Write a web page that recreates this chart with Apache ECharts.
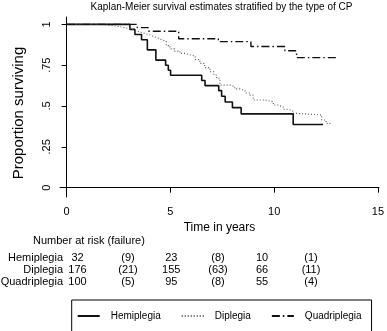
<!DOCTYPE html>
<html>
<head>
<meta charset="utf-8">
<script src="https://cdn.jsdelivr.net/npm/echarts@6/dist/echarts.min.js"></script>
<style>
html,body{margin:0;padding:0;background:#fff;}
#c{width:387px;height:331px;}
</style>
</head>
<body>
<div id="c"></div>
<script>
// ---- data ----
const hemiTime = [0, 3.05, 3.29, 3.61, 3.89, 4.30, 4.77, 4.90, 5.01, 6.51, 6.67, 7.33, 7.47, 7.64, 7.99, 8.41, 10.92, 12.36];
const hemiSurv = [1, 0.969, 0.938, 0.906, 0.844, 0.781, 0.750, 0.719, 0.688, 0.656, 0.625, 0.594, 0.560, 0.525, 0.490, 0.452, 0.387, 0.387];

const dipTime = [0, 1.76, 2.1, 2.33, 2.6, 2.81, 3.05, 3.29, 3.55, 3.77, 4.0, 4.17, 4.4, 4.58, 4.8, 4.98, 5.2, 5.46, 5.7, 5.94, 6.2, 6.42, 6.65, 6.91, 7.1, 7.23, 7.39, 7.87, 8.1, 8.35, 8.6, 8.83, 8.99, 9.56, 9.96, 10.2, 10.44, 10.7, 10.92, 11.08, 12.29, 12.5, 12.69];
const dipSurv = [1, 0.994, 0.99, 0.985, 0.979, 0.973, 0.964, 0.953, 0.944, 0.936, 0.926, 0.916, 0.906, 0.896, 0.87, 0.85, 0.836, 0.822, 0.814, 0.806, 0.784, 0.761, 0.735, 0.71, 0.69, 0.67, 0.628, 0.618, 0.605, 0.593, 0.58, 0.567, 0.537, 0.526, 0.506, 0.494, 0.48, 0.468, 0.455, 0.445, 0.414, 0.394, 0.38];

const quadTime = [0, 3.4, 3.93, 5.4, 7.31, 8.88, 10.52, 11.08, 13.0];
const quadSurv = [1, 0.98, 0.958, 0.912, 0.894, 0.864, 0.838, 0.796, 0.796];

const seriesNames = ['Hemiplegia', 'Diplegia', 'Quadriplegia'];
const xTicks = [0, 5, 10, 15];
const yTicks = [0, 0.25, 0.5, 0.75, 1];
const yTickLabels = ['0', '.25', '.5', '.75', '1'];

const riskTitle = 'Number at risk (failure)';
const riskHemi = ['32', '(9)', '23', '(8)', '10', '(1)'];
const riskDip = ['176', '(21)', '155', '(63)', '66', '(11)'];
const riskQuad = ['100', '(5)', '95', '(8)', '55', '(4)'];

const titleText = 'Kaplan-Meier survival estimates stratified by the type of CP';
const xName = 'Time in years';
const yName = 'Proportion surviving';

// ---- chart ----
const FONT = 'Liberation Sans, Arial, Helvetica, sans-serif';
const zip = (t, s) => t.map((v, i) => [v, s[i]]);

const riskRows = [riskHemi, riskDip, riskQuad];
const riskColX = [77.5, 128, 171.3, 218, 262, 311];
const riskRowY = [257.7, 270, 281.7];

const graphics = [];
graphics.push({
  type: 'text', x: 221.5, y: 7,
  style: { text: titleText, font: '10px ' + FONT, fill: '#000', textAlign: 'center', textVerticalAlign: 'middle' }
});
graphics.push({
  type: 'text', x: 19, y: 113, rotation: Math.PI / 2,
  style: { text: yName, font: '15px ' + FONT, fill: '#000', textAlign: 'center', textVerticalAlign: 'middle' }
});
graphics.push({
  type: 'text', x: 33, y: 241,
  style: { text: riskTitle, font: '11px ' + FONT, fill: '#000', textAlign: 'left', textVerticalAlign: 'middle' }
});
riskRows.forEach((row, r) => {
  graphics.push({
    type: 'text', x: 63, y: riskRowY[r],
    style: { text: seriesNames[r], font: '11px ' + FONT, fill: '#000', textAlign: 'right', textVerticalAlign: 'middle' }
  });
  row.forEach((v, c) => {
    graphics.push({
      type: 'text', x: riskColX[c], y: riskRowY[r],
      style: { text: v, font: '11px ' + FONT, fill: '#000', textAlign: 'center', textVerticalAlign: 'middle' }
    });
  });
});

const chart = echarts.init(document.getElementById('c'), null, { renderer: 'canvas' });
chart.setOption({
  animation: false,
  backgroundColor: '#fff',
  textStyle: { fontFamily: FONT, color: '#000' },
  grid: { left: 60, right: 7, top: 17, bottom: 134, containLabel: false },
  xAxis: {
    type: 'value', min: -0.32, max: 15.05,
    axisLine: { show: true, lineStyle: { color: '#000', width: 1 } },
    axisTick: { show: true, customValues: xTicks, length: 5, lineStyle: { color: '#000' } },
    axisLabel: { customValues: xTicks, fontSize: 11, color: '#000', margin: 9, fontFamily: FONT },
    splitLine: { show: false },
    name: xName, nameLocation: 'middle', nameGap: 18,
    nameTextStyle: { fontSize: 12, color: '#000', fontFamily: FONT }
  },
  yAxis: {
    type: 'value', min: -0.057, max: 1.045,
    axisLine: { show: true, lineStyle: { color: '#000', width: 1 } },
    axisTick: { show: true, customValues: yTicks, length: 5, lineStyle: { color: '#000' } },
    axisLabel: {
      customValues: yTicks, rotate: 90, fontSize: 11, color: '#000', margin: 8, fontFamily: FONT,
      formatter: v => { const i = yTicks.findIndex(t => Math.abs(t - v) < 1e-9); return i >= 0 ? yTickLabels[i] : ''; }
    },
    splitLine: { show: false }
  },
  legend: {
    show: true,
    orient: 'horizontal',
    left: 71.7, top: 300,
    padding: [11, 10, 20, 5],
    borderColor: '#000', borderWidth: 1,
    itemWidth: 22, itemHeight: 10, itemGap: 20,
    itemStyle: { opacity: 0 },
    textStyle: { fontSize: 10, color: '#000', fontFamily: FONT, padding: [0, 0, 0, 6] },
    data: seriesNames
  },
  graphic: graphics,
  series: [
    {
      name: seriesNames[0], type: 'line', step: 'end', symbol: 'none', showSymbol: false,
      data: zip(hemiTime, hemiSurv),
      lineStyle: { color: '#111', width: 1.6, type: 'solid' },
      itemStyle: { color: '#111' }
    },
    {
      name: seriesNames[1], type: 'line', step: 'end', symbol: 'none', showSymbol: false,
      data: zip(dipTime, dipSurv),
      lineStyle: { color: '#555', width: 1.1, type: [1, 2] },
      itemStyle: { color: '#555' }
    },
    {
      name: seriesNames[2], type: 'line', step: 'end', symbol: 'none', showSymbol: false,
      data: zip(quadTime, quadSurv),
      lineStyle: { color: '#111', width: 1.4, type: [8, 3, 1.5, 3] },
      itemStyle: { color: '#111' }
    }
  ]
});
</script>
</body>
</html>
